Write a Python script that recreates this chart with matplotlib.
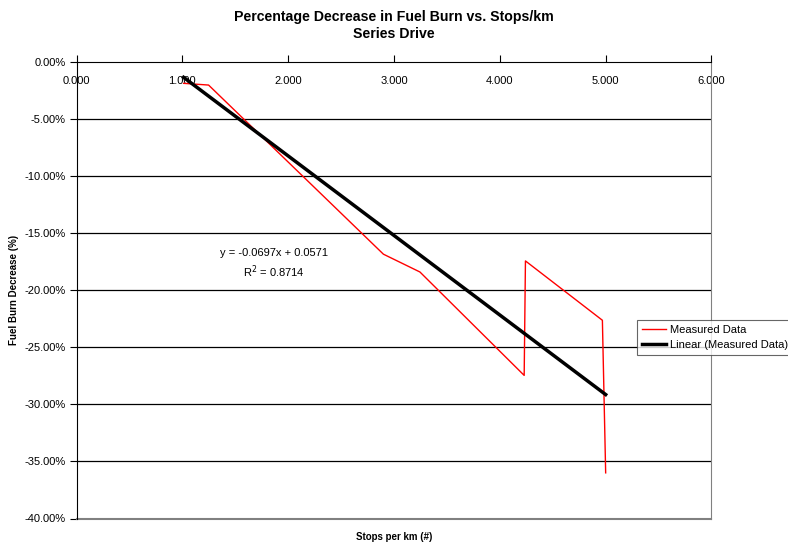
import matplotlib.pyplot as plt
import numpy as np

# measured stops/km vs fuel burn change
stops_per_km = [1.012, 1.248, 2.900, 3.245, 4.230, 4.242, 4.969, 5.000]
fuel_burn = [-0.0187, -0.0202, -0.1684, -0.1840, -0.2746, -0.1743, -0.2263, -0.3600]

# linear trendline as reported by the spreadsheet
slope = -0.0697
intercept = 0.0571
r_squared = 0.8714

plt.rcParams['font.family'] = ['Liberation Sans', 'DejaVu Sans']

fig = plt.figure(figsize=(7.88, 5.47), dpi=100)
ax = fig.add_axes([76.5 / 788, 1 - 518.5 / 547, (711.5 - 76.5) / 788, (518.5 - 62) / 547])

ax.set_xlim(0, 6)
ax.set_ylim(-0.40, 0.0)

ax.plot(stops_per_km, fuel_burn, color='red', lw=1.0, label='Measured Data')
xt = np.array([stops_per_km[0], stops_per_km[-1]])
ax.plot(xt, slope * xt + intercept, color='black', lw=2.5, label='Linear (Measured Data)')

# horizontal gridlines
for yv in np.arange(-0.35, 0.0, 0.05):
    ax.axhline(yv, color='black', lw=0.9, zorder=0)

# x axis sits at y = 0 (top of plot)
ax.spines['bottom'].set_position(('data', 0))
ax.spines['bottom'].set_color('black')
ax.spines['bottom'].set_zorder(5)
ax.spines['top'].set_visible(False)
ax.spines['left'].set_color('black')
ax.spines['right'].set_color('#808080')
ax.add_line(plt.Line2D([0, 1], [0, 0], transform=ax.transAxes, color='#808080', lw=1.5, clip_on=False))

ax.set_xticks(np.arange(0, 6.01, 1))
ax.set_xticklabels(['%.3f' % v for v in np.arange(0, 6.01, 1)])
ax.set_yticks(np.arange(-0.40, 0.001, 0.05))
ax.set_yticklabels(['%.2f%%' % (v * 100) if abs(v) > 1e-9 else '0.00%' for v in np.arange(-0.40, 0.001, 0.05)])
ax.tick_params(axis='x', direction='in', length=5, pad=10, labelsize=8, color='black')
ax.tick_params(axis='y', direction='out', length=5, pad=3, labelsize=8, color='black')

ax.set_xlabel('Stops per km (#)', fontsize=7, fontweight='bold')
ax.xaxis.set_label_coords(0.5, -0.03)
ax.set_ylabel('Fuel Burn Decrease (%)', fontsize=7, fontweight='bold', labelpad=4)

ax.set_title('Percentage Decrease in Fuel Burn vs. Stops/km\nSeries Drive',
             fontsize=10.2, fontweight='bold', pad=17, linespacing=1.35)

ax.text(1.866, -0.177, 'y = -0.0697x + 0.0571\nR$^2$ = %.4f' % r_squared,
        fontsize=8, ha='center', va='center', linespacing=1.45)

leg = ax.legend(loc='upper left', bbox_to_anchor=(637 / 788, 1 - 320 / 547), bbox_transform=fig.transFigure,
                fontsize=8, frameon=True, fancybox=False, borderpad=0.45, handlelength=2.2,
                handletextpad=0.3, labelspacing=0.45, borderaxespad=0)
leg.get_frame().set_edgecolor('#404040')
leg.get_frame().set_linewidth(0.8)

fig.savefig('out.png', dpi=100)
